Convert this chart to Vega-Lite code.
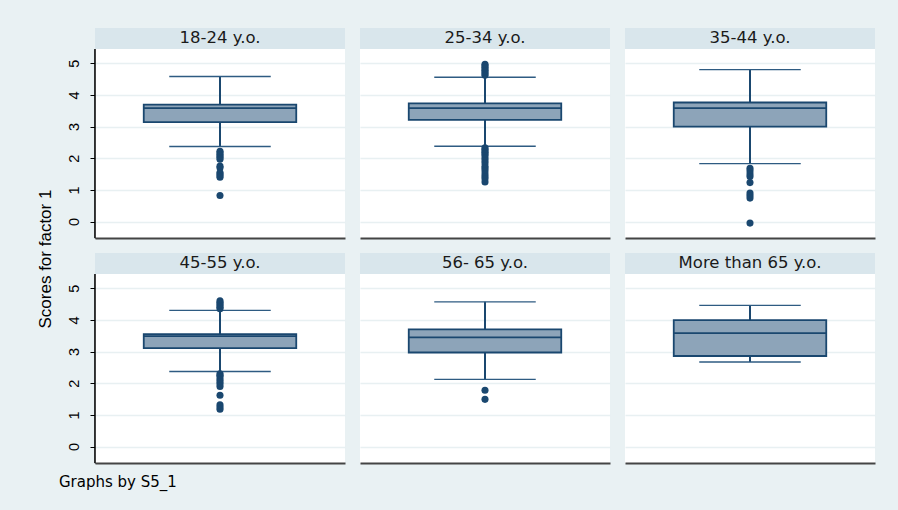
{
  "$schema": "https://vega.github.io/schema/vega-lite/v6.json",
  "background": "#E9F1F3",
  "padding": {"left": 36, "top": 28, "right": 24, "bottom": 22},
  "title": {"text": "Scores for factor 1", "orient": "left", "anchor": "middle", "fontSize": 17, "fontWeight": "normal", "font": "Liberation Sans", "color": "#000000", "offset": 4},
  "config": {
    "font": "Liberation Sans",
    "view": {"fill": "white", "stroke": null},
    "header": {"labels": false, "labelExpr": "''", "labelFontSize": 0, "labelPadding": 0, "title": null},
    "axisY": {"tickCount": 6, "labelOverlap": false, "grid": true, "gridColor": "#E8F0F2", "gridWidth": 1.5, "domainColor": "#000000", "domainWidth": 1.5, "tickColor": "#000000", "tickSize": 5, "labelAngle": -90, "labelAlign": "center", "labelBaseline": "bottom", "labelPadding": 9, "labelFontSize": 14.5, "labelColor": "#000000", "labelFont": "Liberation Sans", "title": null},
    "axisX": {"title": null, "labels": false, "ticks": false, "grid": false, "domain": true, "domainColor": "#444444", "domainWidth": 2, "labelPadding": 0}
  },
  "data": {"values": [
    {"group": "18-24 y.o.", "kind": "box", "q1": 3.14, "median": 3.58, "q3": 3.69, "lo": 2.37, "hi": 4.58},
    {"group": "25-34 y.o.", "kind": "box", "q1": 3.21, "median": 3.58, "q3": 3.73, "lo": 2.38, "hi": 4.56},
    {"group": "35-44 y.o.", "kind": "box", "q1": 3.0, "median": 3.58, "q3": 3.76, "lo": 1.83, "hi": 4.80},
    {"group": "45-55  y.o.", "kind": "box", "q1": 3.11, "median": 3.49, "q3": 3.55, "lo": 2.37, "hi": 4.30},
    {"group": "56- 65 y.o.", "kind": "box", "q1": 2.97, "median": 3.45, "q3": 3.70, "lo": 2.12, "hi": 4.57},
    {"group": "More than 65 y.o.", "kind": "box", "q1": 2.86, "median": 3.58, "q3": 3.99, "lo": 2.67, "hi": 4.46},
    {"group": "18-24 y.o.", "kind": "out", "score": 2.22},
    {"group": "18-24 y.o.", "kind": "out", "score": 2.17},
    {"group": "18-24 y.o.", "kind": "out", "score": 2.12},
    {"group": "18-24 y.o.", "kind": "out", "score": 2.07},
    {"group": "18-24 y.o.", "kind": "out", "score": 2.02},
    {"group": "18-24 y.o.", "kind": "out", "score": 1.97},
    {"group": "18-24 y.o.", "kind": "out", "score": 1.75},
    {"group": "18-24 y.o.", "kind": "out", "score": 1.70},
    {"group": "18-24 y.o.", "kind": "out", "score": 1.55},
    {"group": "18-24 y.o.", "kind": "out", "score": 1.50},
    {"group": "18-24 y.o.", "kind": "out", "score": 1.45},
    {"group": "18-24 y.o.", "kind": "out", "score": 1.40},
    {"group": "18-24 y.o.", "kind": "out", "score": 0.82},
    {"group": "25-34 y.o.", "kind": "out", "score": 4.97},
    {"group": "25-34 y.o.", "kind": "out", "score": 4.92},
    {"group": "25-34 y.o.", "kind": "out", "score": 4.87},
    {"group": "25-34 y.o.", "kind": "out", "score": 4.82},
    {"group": "25-34 y.o.", "kind": "out", "score": 4.77},
    {"group": "25-34 y.o.", "kind": "out", "score": 4.72},
    {"group": "25-34 y.o.", "kind": "out", "score": 4.67},
    {"group": "25-34 y.o.", "kind": "out", "score": 4.62},
    {"group": "25-34 y.o.", "kind": "out", "score": 2.33},
    {"group": "25-34 y.o.", "kind": "out", "score": 2.28},
    {"group": "25-34 y.o.", "kind": "out", "score": 2.23},
    {"group": "25-34 y.o.", "kind": "out", "score": 2.18},
    {"group": "25-34 y.o.", "kind": "out", "score": 2.13},
    {"group": "25-34 y.o.", "kind": "out", "score": 2.08},
    {"group": "25-34 y.o.", "kind": "out", "score": 2.00},
    {"group": "25-34 y.o.", "kind": "out", "score": 1.92},
    {"group": "25-34 y.o.", "kind": "out", "score": 1.85},
    {"group": "25-34 y.o.", "kind": "out", "score": 1.75},
    {"group": "25-34 y.o.", "kind": "out", "score": 1.68},
    {"group": "25-34 y.o.", "kind": "out", "score": 1.60},
    {"group": "25-34 y.o.", "kind": "out", "score": 1.50},
    {"group": "25-34 y.o.", "kind": "out", "score": 1.42},
    {"group": "25-34 y.o.", "kind": "out", "score": 1.35},
    {"group": "25-34 y.o.", "kind": "out", "score": 1.25},
    {"group": "35-44 y.o.", "kind": "out", "score": 1.68},
    {"group": "35-44 y.o.", "kind": "out", "score": 1.60},
    {"group": "35-44 y.o.", "kind": "out", "score": 1.50},
    {"group": "35-44 y.o.", "kind": "out", "score": 1.42},
    {"group": "35-44 y.o.", "kind": "out", "score": 1.23},
    {"group": "35-44 y.o.", "kind": "out", "score": 0.90},
    {"group": "35-44 y.o.", "kind": "out", "score": 0.82},
    {"group": "35-44 y.o.", "kind": "out", "score": 0.74},
    {"group": "35-44 y.o.", "kind": "out", "score": -0.05},
    {"group": "45-55  y.o.", "kind": "out", "score": 4.60},
    {"group": "45-55  y.o.", "kind": "out", "score": 4.55},
    {"group": "45-55  y.o.", "kind": "out", "score": 4.50},
    {"group": "45-55  y.o.", "kind": "out", "score": 4.45},
    {"group": "45-55  y.o.", "kind": "out", "score": 4.40},
    {"group": "45-55  y.o.", "kind": "out", "score": 4.35},
    {"group": "45-55  y.o.", "kind": "out", "score": 2.30},
    {"group": "45-55  y.o.", "kind": "out", "score": 2.25},
    {"group": "45-55  y.o.", "kind": "out", "score": 2.20},
    {"group": "45-55  y.o.", "kind": "out", "score": 2.12},
    {"group": "45-55  y.o.", "kind": "out", "score": 2.05},
    {"group": "45-55  y.o.", "kind": "out", "score": 1.98},
    {"group": "45-55  y.o.", "kind": "out", "score": 1.90},
    {"group": "45-55  y.o.", "kind": "out", "score": 1.62},
    {"group": "45-55  y.o.", "kind": "out", "score": 1.32},
    {"group": "45-55  y.o.", "kind": "out", "score": 1.25},
    {"group": "45-55  y.o.", "kind": "out", "score": 1.18},
    {"group": "56- 65 y.o.", "kind": "out", "score": 1.78},
    {"group": "56- 65 y.o.", "kind": "out", "score": 1.49}
  ]},
  "facet": {
    "field": "group",
    "type": "nominal",
    "sort": ["18-24 y.o.", "25-34 y.o.", "35-44 y.o.", "45-55  y.o.", "56- 65 y.o.", "More than 65 y.o."],
    "header": {"title": null, "labels": false}
  },
  "columns": 3,
  "bounds": "flush",
  "spacing": {"column": 15, "row": 36},
  "resolve": {"axis": {"x": "independent"}},
  "spec": {
    "width": 250,
    "height": 189,
    "layer": [
      {
        "transform": [{"filter": "datum.kind === 'box'"}],
        "mark": {"type": "rect", "fill": "#D9E6EC", "clip": false},
        "encoding": {
          "x": {"datum": 0, "type": "quantitative", "scale": {"domain": [0, 1], "nice": false, "zero": false}},
          "x2": {"datum": 1},
          "y": {"datum": 5.45, "type": "quantitative", "scale": {"domain": [-0.52, 5.45], "nice": false, "zero": false}},
          "y2": {"datum": 6.11}
        }
      },
      {
        "transform": [{"filter": "datum.kind === 'box'"}],
        "mark": {"type": "text", "fontSize": 16.5, "font": "DejaVu Sans", "color": "#1a1a1a", "baseline": "middle", "align": "center", "clip": false},
        "encoding": {
          "x": {"datum": 0.5, "type": "quantitative"},
          "y": {"datum": 5.79, "type": "quantitative"},
          "text": {"field": "group"}
        }
      },
      {
        "transform": [{"filter": "datum.kind === 'box' && datum.group === '45-55  y.o.'"}],
        "mark": {"type": "text", "fontSize": 15, "font": "DejaVu Sans", "color": "#000000", "baseline": "middle", "align": "left", "clip": false},
        "encoding": {
          "x": {"datum": -0.144, "type": "quantitative"},
          "y": {"datum": -1.12, "type": "quantitative"},
          "text": {"value": "Graphs by S5_1"}
        }
      },
      {
        "transform": [{"filter": "datum.kind === 'box' && (datum.group === '18-24 y.o.' || datum.group === '45-55  y.o.')"}],
        "mark": {"type": "rule", "color": "#000000", "strokeWidth": 1.5},
        "encoding": {
          "x": {"datum": 0, "type": "quantitative"},
          "y": {"datum": -0.52, "type": "quantitative"},
          "y2": {"datum": 5.45}
        }
      },
      {
        "transform": [{"filter": "datum.kind === 'box'"}],
        "mark": {"type": "rule", "color": "#1A476F", "strokeWidth": 2},
        "encoding": {
          "x": {"datum": 0.5, "type": "quantitative"},
          "y": {"field": "lo", "type": "quantitative"},
          "y2": {"field": "hi"}
        }
      },
      {
        "transform": [{"filter": "datum.kind === 'box'"}],
        "mark": {"type": "rule", "color": "#2E5B82", "strokeWidth": 1.4},
        "encoding": {
          "x": {"datum": 0.297, "type": "quantitative"},
          "x2": {"datum": 0.703},
          "y": {"field": "lo", "type": "quantitative"}
        }
      },
      {
        "transform": [{"filter": "datum.kind === 'box'"}],
        "mark": {"type": "rule", "color": "#2E5B82", "strokeWidth": 1.4},
        "encoding": {
          "x": {"datum": 0.297, "type": "quantitative"},
          "x2": {"datum": 0.703},
          "y": {"field": "hi", "type": "quantitative"}
        }
      },
      {
        "transform": [{"filter": "datum.kind === 'box'"}],
        "mark": {"type": "rect", "fill": "#8DA4B9", "stroke": "#1A476F", "strokeWidth": 1.8},
        "encoding": {
          "x": {"datum": 0.195, "type": "quantitative"},
          "x2": {"datum": 0.805},
          "y": {"field": "q1", "type": "quantitative"},
          "y2": {"field": "q3"}
        }
      },
      {
        "transform": [{"filter": "datum.kind === 'box'"}],
        "mark": {"type": "rule", "color": "#1A476F", "strokeWidth": 1.8},
        "encoding": {
          "x": {"datum": 0.195, "type": "quantitative"},
          "x2": {"datum": 0.805},
          "y": {"field": "median", "type": "quantitative"}
        }
      },
      {
        "transform": [{"filter": "datum.kind === 'out'"}],
        "mark": {"type": "point", "filled": true, "opacity": 1, "color": "#1A476F", "size": 50},
        "encoding": {
          "x": {"datum": 0.5, "type": "quantitative"},
          "y": {"field": "score", "type": "quantitative"}
        }
      }
    ]
  }
}
